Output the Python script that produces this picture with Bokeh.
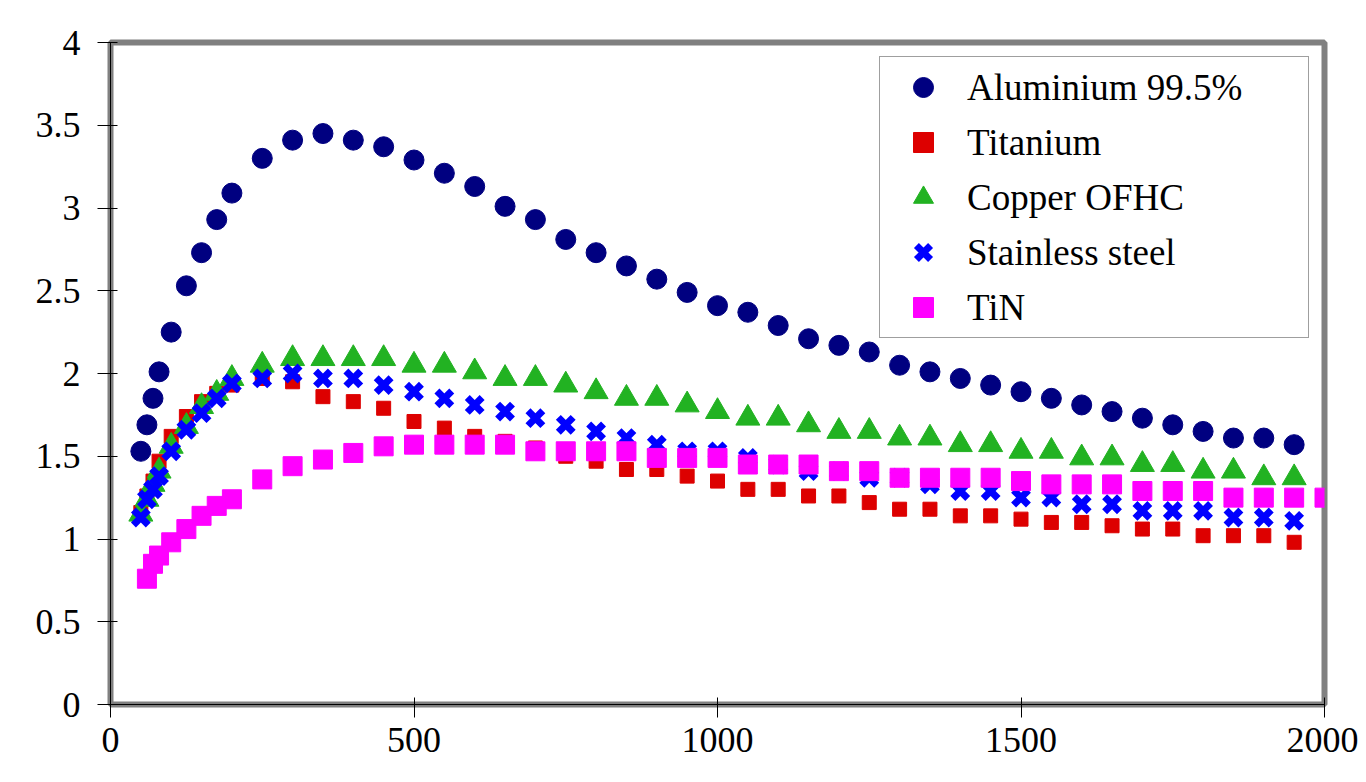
from bokeh.plotting import figure
from bokeh.models import Range1d, Legend, LegendItem, FixedTicker
from bokeh.embed import file_html
from bokeh.resources import INLINE

# ---- data ----
temperature = [50, 60, 70, 80, 100, 125, 150, 175, 200, 250, 300, 350, 400, 450, 500,
               550, 600, 650, 700, 750, 800, 850, 900, 950, 1000, 1050, 1100, 1150,
               1200, 1250, 1300, 1350, 1400, 1450, 1500, 1550, 1600, 1650, 1700, 1750,
               1800, 1850, 1900, 1950]
aluminium = [1.53, 1.69, 1.85, 2.01, 2.25, 2.53, 2.73, 2.93, 3.09, 3.30, 3.41, 3.45, 3.41,
             3.37, 3.29, 3.21, 3.13, 3.01, 2.93, 2.81, 2.73, 2.65, 2.57, 2.49, 2.41, 2.37,
             2.29, 2.21, 2.17, 2.13, 2.05, 2.01, 1.97, 1.93, 1.89, 1.85, 1.81, 1.77, 1.73,
             1.69, 1.65, 1.61, 1.61, 1.57]
titanium = [1.16, 1.26, 1.35, 1.47, 1.62, 1.74, 1.83, 1.88, 1.93, 1.97, 1.95, 1.86, 1.83,
            1.79, 1.71, 1.67, 1.62, 1.59, 1.55, 1.50, 1.47, 1.42, 1.42, 1.38, 1.35, 1.30,
            1.30, 1.26, 1.26, 1.22, 1.18, 1.18, 1.14, 1.14, 1.12, 1.10, 1.10, 1.08, 1.06,
            1.06, 1.02, 1.02, 1.02, 0.98]
copper = [1.15, 1.24, 1.33, 1.41, 1.56, 1.68, 1.80, 1.88, 1.97, 2.05, 2.09, 2.09, 2.09,
          2.09, 2.05, 2.05, 2.01, 1.97, 1.97, 1.93, 1.89, 1.85, 1.85, 1.81, 1.77, 1.73,
          1.73, 1.69, 1.65, 1.65, 1.61, 1.61, 1.57, 1.57, 1.53, 1.53, 1.49, 1.49, 1.45,
          1.45, 1.41, 1.41, 1.37, 1.37]
stainless = [1.13, 1.24, 1.30, 1.38, 1.53, 1.66, 1.76, 1.85, 1.94, 1.97, 2.00, 1.97, 1.97,
             1.93, 1.89, 1.85, 1.81, 1.77, 1.73, 1.69, 1.65, 1.61, 1.57, 1.53, 1.53, 1.49,
             1.45, 1.41, 1.41, 1.37, 1.37, 1.33, 1.29, 1.29, 1.25, 1.25, 1.21, 1.21, 1.17,
             1.17, 1.17, 1.13, 1.13, 1.11]
tin_temperature = [60, 70, 80, 100, 125, 150, 175, 200, 250, 300, 350, 400, 450, 500, 550,
                   600, 650, 700, 750, 800, 850, 900, 950, 1000, 1050, 1100, 1150, 1200,
                   1250, 1300, 1350, 1400, 1450, 1500, 1550, 1600, 1650, 1700, 1750, 1800,
                   1850, 1900, 1950, 2000]
tin = [0.76, 0.85, 0.90, 0.98, 1.06, 1.14, 1.20, 1.24, 1.36, 1.44, 1.48, 1.52, 1.56, 1.57,
       1.57, 1.57, 1.57, 1.53, 1.53, 1.53, 1.53, 1.49, 1.49, 1.49, 1.45, 1.45, 1.45, 1.41,
       1.41, 1.37, 1.37, 1.37, 1.37, 1.35, 1.33, 1.33, 1.33, 1.29, 1.29, 1.29, 1.25, 1.25,
       1.25, 1.25]

series_names = ["Aluminium 99.5%", "Titanium", "Copper OFHC", "Stainless steel", "TiN"]
x_ticks = [0, 500, 1000, 1500, 2000]
x_tick_labels = ["0", "500", "1000", "1500", "2000"]
y_ticks = [0, 0.5, 1, 1.5, 2, 2.5, 3, 3.5, 4]
y_tick_labels = ["0", "0.5", "1", "1.5", "2", "2.5", "3", "3.5", "4"]

FONT = "Liberation Serif"

p = figure(width=1358, height=774, output_backend="svg", toolbar_location=None,
           x_range=Range1d(0, 2000), y_range=Range1d(0, 4),
           min_border_left=110, min_border_right=34, min_border_top=42,
           min_border_bottom=70)
p.background_fill_color = "white"
p.border_fill_color = "white"
p.outline_line_color = "#808080"
p.outline_line_width = 6
p.xgrid.visible = False
p.ygrid.visible = False

for ax in (p.xaxis[0], p.yaxis[0]):
    ax.axis_line_color = "black"
    ax.axis_line_width = 1
    ax.major_tick_line_color = "black"
    ax.major_tick_in = 7
    ax.major_tick_out = 13
    ax.minor_tick_line_color = None
    ax.major_label_text_font = FONT
    ax.major_label_text_font_size = "36px"
    ax.major_label_text_color = "black"

p.xaxis.ticker = FixedTicker(ticks=x_ticks)
p.xaxis.major_label_overrides = {t: l for t, l in zip(x_ticks, x_tick_labels)}
p.xaxis.major_label_standoff = 10
p.yaxis.ticker = FixedTicker(ticks=y_ticks)
p.yaxis.major_label_overrides = {t: l for t, l in zip(y_ticks, y_tick_labels)}
p.yaxis.major_label_standoff = 17

r_al = p.scatter(temperature, aluminium, marker="circle", size=20,
                 fill_color="#000080", line_color="#000080")
r_ti = p.scatter(temperature, titanium, marker="square", size=14,
                 fill_color="#dd0000", line_color="#dd0000")
r_cu = p.scatter(temperature, copper, marker="triangle", size=24,
                 fill_color="#22b222", line_color="#22b222")
r_ss = p.scatter(temperature, stainless, marker="x", size=21,
                 line_color="#0000ff", line_width=7)
r_tin = p.scatter(tin_temperature, tin, marker="square", size=19,
                  fill_color="#ff00ff", line_color="#ff00ff")

items = [LegendItem(label=n, renderers=[r]) for n, r in
         zip(series_names, [r_al, r_ti, r_cu, r_ss, r_tin])]
legend = Legend(items=items, location=(769, 366),
                label_text_font=FONT, label_text_font_size="37px",
                label_text_color="black",
                glyph_width=76, glyph_height=50, label_height=50,
                label_standoff=6, label_width=336, spacing=5, padding=5,
                margin=0, border_line_color="#404040", border_line_width=1,
                background_fill_color="white", background_fill_alpha=1)
p.add_layout(legend)

open("out.html", "w").write(file_html(p, INLINE))
